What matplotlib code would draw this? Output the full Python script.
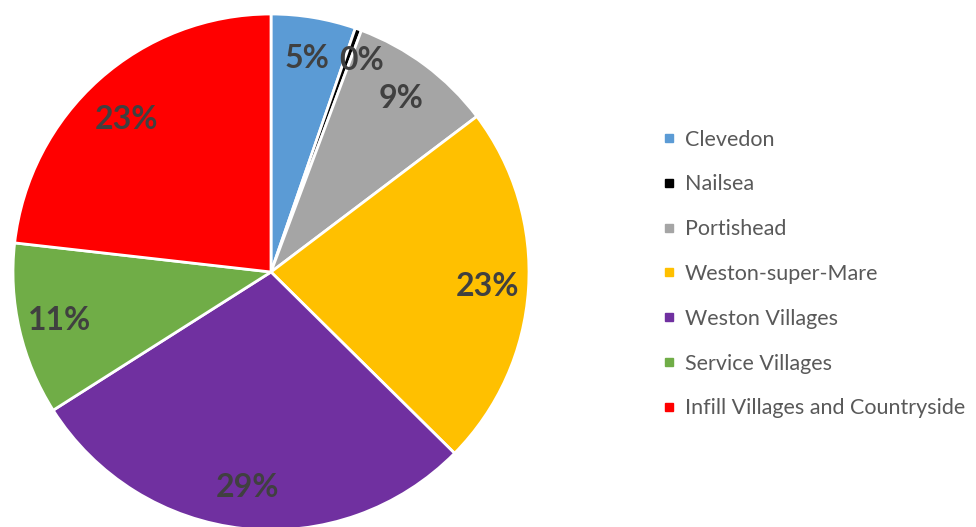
import matplotlib.pyplot as plt
from matplotlib.lines import Line2D

areas = ["Clevedon", "Nailsea", "Portishead", "Weston-super-Mare",
         "Weston Villages", "Service Villages", "Infill Villages and Countryside"]
shares = [5.3, 0.4, 9.0, 22.7, 28.6, 10.8, 23.2]
colors = ["#5B9BD5", "#000000", "#A5A5A5", "#FFC000", "#7030A0", "#70AD47", "#FF0000"]

plt.rcParams['font.family'] = ['Lato', 'DejaVu Sans']

fig = plt.figure(figsize=(9.76, 5.27), dpi=100)
ax = fig.add_axes([13 / 976, -3 / 527, 516 / 976, 516 / 527])

wedges, texts, autotexts = ax.pie(
    shares, colors=colors, startangle=90, counterclock=False,
    autopct=lambda p: "%.0f%%" % p, pctdistance=0.84,
    wedgeprops=dict(edgecolor="white", linewidth=2),
    textprops=dict(color="#404040", fontsize=23, fontweight="bold"))
ax.set_xlim(-1, 1)
ax.set_ylim(-1, 1)
ax.set_aspect("equal")
# labels that Excel nudged
autotexts[1].set_position((0.35, 0.82))
autotexts[6].set_position((-0.56, 0.59))

handles = [Line2D([], [], marker="s", linestyle="", markersize=6,
                  markerfacecolor=c, markeredgecolor=c) for c in colors]
fig.legend(handles, areas, loc="center left", bbox_to_anchor=(644 / 976, 253 / 527),
           frameon=False, fontsize=15.5, labelcolor="#595959",
           handlelength=0.5, handletextpad=0.5, labelspacing=1.15)

fig.savefig("out.png", dpi=100)
